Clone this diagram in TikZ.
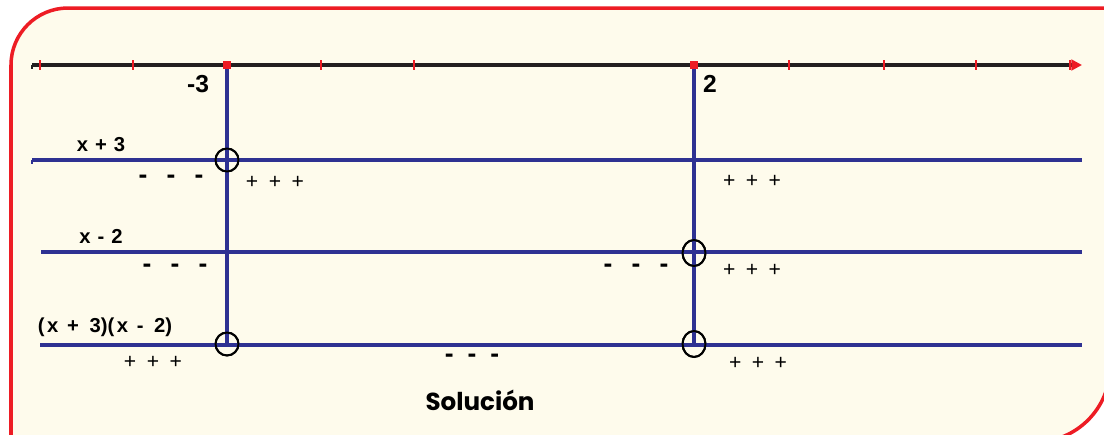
\documentclass[tikz,border=0pt]{standalone}
\usepackage{fontspec}
\setmainfont{Liberation Sans}
\newfontfamily\solfont{Poppins}
\usetikzlibrary{arrows.meta,shapes.geometric}

\definecolor{crema}{RGB}{254,251,236}
\definecolor{rojo}{RGB}{237,28,36}
\definecolor{azul}{RGB}{46,49,146}
\definecolor{tinta}{RGB}{35,31,32}

% three signs with a gap between them
\newcommand{\tres}[2]{#1\hspace{#2}#1\hspace{#2}#1}

\begin{document}
\begin{tikzpicture}[
  x=0.02cm, y=-0.02cm,
  marco/.style={draw=rojo, line width=2pt, fill=crema},
  eje/.style={draw=tinta, line width=1.9pt, -{Triangle[color=rojo, length=6pt, width=6pt]}},
  linea/.style={draw=azul, line width=1.9pt},
  marca/.style={draw=rojo, line width=1.5pt},
  cruce/.style={draw=black, circle, line width=1.1pt, minimum size=0.46cm, inner sep=0pt},
  cruceov/.style={draw=black, ellipse, line width=1.1pt, minimum width=0.46cm, minimum height=0.52cm, inner sep=0pt},
  etiq/.style={font=\bfseries\fontsize{11.5}{13}\selectfont, inner sep=0pt},
  num/.style={font=\bfseries\fontsize{14}{16}\selectfont, inner sep=0pt},
  menos/.style={font=\bfseries\fontsize{15}{16}\selectfont, inner sep=0pt},
  mas/.style={font=\fontsize{12}{14}\selectfont, inner sep=0pt},
  sol/.style={font=\solfont\bfseries\fontsize{14}{16}\selectfont, inner sep=0pt}
]
\useasboundingbox (0,0) rectangle (1104,434);
\clip (0,0) rectangle (1104,434);

% frame
\path[marco] (11,442) -- (11,65) arc[start angle=180, end angle=270, radius=57]
  -- (1110,8) -- (1110,367) arc[start angle=0, end angle=90, radius=75] -- cycle;

% points of the number line
\coordinate (ejeIni) at (32,65);
\coordinate (ejeFin) at (1082,65);
\coordinate (pA) at (227,65);
\coordinate (pB) at (694,65);

% rows
\coordinate (f1i) at (32,160);  \coordinate (f1f) at (1082,160);
\coordinate (f2i) at (41,252);  \coordinate (f2f) at (1082,252);
\coordinate (f3i) at (40,345);  \coordinate (f3f) at (1082,345);

\node[cruce]   (cA1) at (227,160) {};
\node[cruceov] (cB2) at (694,253) {};
\node[cruce]   (cA3) at (227,344) {};
\node[cruceov] (cB3) at (694,344) {};

\draw[linea] (pA) -- (cA3.center);
\draw[linea] (pB) -- (cB3.center);
\draw[linea] (f1i) -- (f1f);
\draw[linea] (f2i) -- (f2f);
\draw[linea] (f3i) -- (f3f);
\draw[linea, line width=1pt] (f1i) -- ++(0,4);

\draw[eje] (ejeIni) -- (ejeFin);
\draw[tinta, line width=1pt] (ejeIni) -- ++(0,4);

\foreach \t in {40,133,321,414,789,884,976,1070}
  \draw[marca] (\t,60) -- (\t,70);
\fill[rojo] (223,61) rectangle (231,69);
\fill[rojo] (690,61) rectangle (698,69);

% redraw the circles over the lines
\node[cruce]   at (cA1) {};
\node[cruceov] at (cB2) {};
\node[cruce]   at (cA3) {};
\node[cruceov] at (cB3) {};

\node[num] (nA) at (198,84) {-3};
\node[num] (nB) at (710,84) {2};

\node[etiq] (e1) at (101,145) {x\hspace{4pt}+\hspace{4pt}3};
\node[menos] (s1a) at (171,179) {\tres{-}{11pt}};
\node[mas] (s1b) at (275,182) {\tres{+}{6pt}};
\node[mas] (s1c) at (752,181) {\tres{+}{6pt}};

\node[etiq] (e2) at (101,236) {x\hspace{4pt}-\hspace{4pt}2};
\node[menos] (s2a) at (175,268) {\tres{-}{11pt}};
\node[menos] (s2b) at (636,268) {\tres{-}{11pt}};
\node[mas] (s2c) at (752,270) {\tres{+}{6pt}};

\node[etiq] (e3) at (105,327) {(\hspace{1.5pt}x\hspace{5pt}+\hspace{6pt}3)(\hspace{1.5pt}x\hspace{5pt}-\hspace{6pt}2)};
\node[mas] (s3a) at (153,362) {\tres{+}{6pt}};
\node[menos] (s3b) at (472,358) {\tres{-}{8pt}};
\node[mas] (s3c) at (758,363) {\tres{+}{6pt}};

\node[sol] (sol) at (480,400) {Solución};
\end{tikzpicture}
\end{document}
